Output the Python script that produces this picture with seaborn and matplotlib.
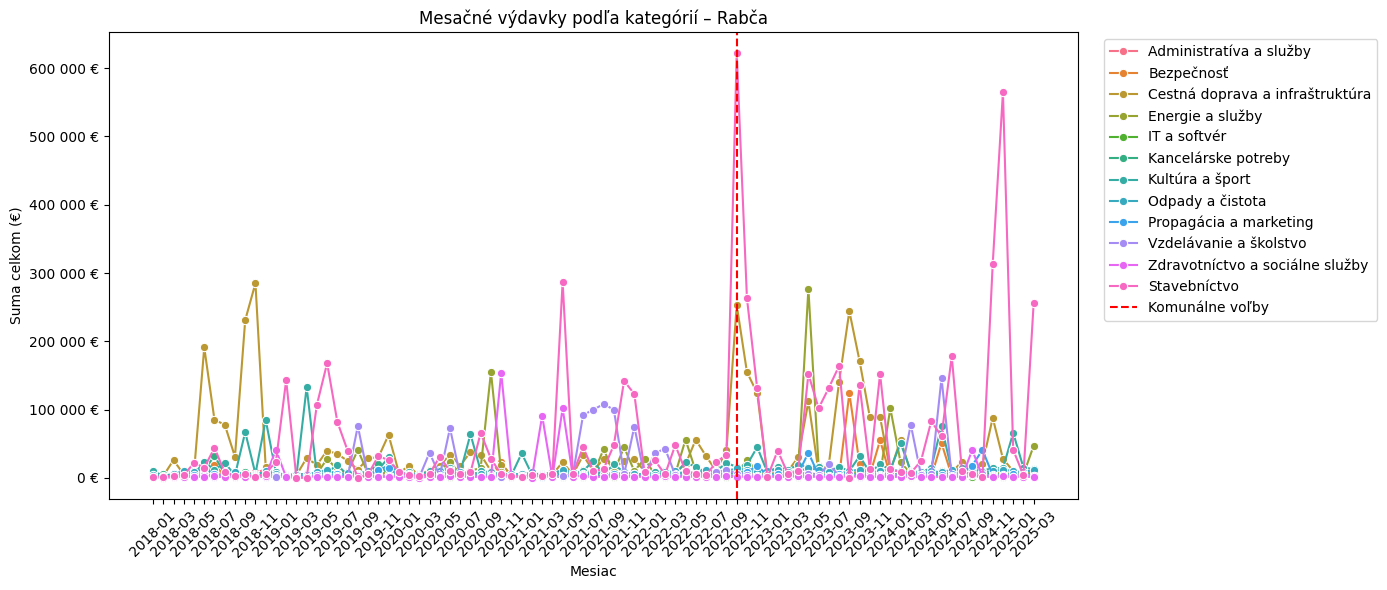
import pandas as pd
import matplotlib.pyplot as plt
import matplotlib.ticker as mticker
import seaborn as sns

# months 2018-01 .. 2025-03
months = [f"{y}-{m:02d}" for y in range(2018, 2026) for m in range(1, 13)][:87]

# monthly totals in thousands of EUR
admin = [5, 3, 4, 8, 6, 10, 7, 5, 4, 6, 8, 12,
         3, 4, 6, 5, 7, 4, 3, 9, 5, 6, 4, 8,
         5, 3, 6, 7, 4, 9, 5, 8, 6, 4, 3, 5,
         4, 6, 3, 7, 5, 8, 6, 4, 9, 5, 7, 3,
         6, 4, 8, 5, 7, 3, 6, 9, 5, 10, 7, 4,
         5, 8, 6, 4, 7, 5, 9, 6, 4, 8, 5, 7,
         6, 4, 9, 5, 7, 3, 8, 6, 5, 4, 7, 6,
         5, 8, 4]
bezpecnost = [1, 2, 1, 3, 2, 4, 19, 3, 1, 2, 1, 2,
              1, 3, 2, 1, 4, 2, 1, 3, 13, 2, 1, 2,
              3, 1, 2, 4, 2, 1, 3, 2, 5, 2, 23, 1,
              2, 1, 3, 2, 1, 4, 2, 3, 1, 2, 5, 1,
              2, 3, 1, 2, 4, 1, 3, 2, 1, 5, 2, 1,
              3, 2, 1, 4, 2, 3, 5, 2, 124, 20, 4, 55,
              3, 2, 1, 4, 2, 51, 3, 2, 1, 4, 2, 3,
              2, 1, 3]
doprava = [2, 3, 26, 5, 8, 191, 85, 78, 31, 231, 285, 16,
           3, 2, 4, 29, 19, 40, 35, 25, 12, 29, 30, 63,
           8, 17, 3, 12, 18, 34, 18, 38, 34, 10, 19, 5,
           3, 5, 3, 5, 23, 5, 33, 10, 28, 15, 25, 27,
           10, 3, 5, 8, 20, 56, 32, 10, 41, 253, 155, 124,
           3, 8, 10, 30, 112, 8, 20, 141, 244, 171, 89, 89,
           10, 56, 8, 3, 5, 5, 8, 24, 10, 20, 88, 28,
           10, 5, 10]
energie = [1, 2, 3, 2, 4, 6, 3, 2, 5, 3, 2, 4,
           2, 3, 5, 4, 6, 28, 12, 8, 41, 6, 4, 10,
           3, 5, 4, 8, 12, 23, 6, 10, 15, 155, 8, 3,
           4, 6, 5, 8, 10, 4, 12, 6, 42, 8, 45, 10,
           28, 5, 8, 6, 56, 10, 5, 4, 8, 6, 26, 10,
           5, 8, 6, 10, 277, 17, 5, 8, 6, 10, 8, 5,
           102, 23, 6, 8, 5, 10, 6, 8, 5, 10, 6, 8,
           5, 5, 47]
it = [2, 1, 3, 1, 2, 4, 2, 1, 3, 2, 1, 2,
      1, 2, 1, 3, 2, 1, 2, 4, 1, 2, 3, 1,
      2, 1, 3, 2, 1, 2, 4, 1, 2, 3, 1, 2,
      1, 3, 2, 1, 2, 5, 1, 2, 3, 1, 2, 1,
      3, 2, 1, 2, 4, 1, 2, 3, 1, 2, 5, 1,
      2, 1, 3, 2, 1, 4, 2, 1, 3, 2, 1, 2,
      1, 2, 3, 1, 2, 8, 1, 3, 2, 1, 2, 1,
      2, 1, 3]
kancelarske = [3, 5, 4, 8, 10, 12, 32, 6, 5, 8, 4, 6,
               5, 3, 6, 4, 8, 5, 7, 4, 6, 8, 20, 5,
               4, 6, 3, 8, 5, 7, 4, 6, 8, 3, 5, 4,
               6, 3, 5, 8, 4, 6, 3, 7, 5, 4, 8, 6,
               3, 5, 7, 4, 10, 6, 5, 4, 8, 6, 12, 5,
               4, 7, 5, 8, 6, 4, 5, 7, 6, 5, 8, 4,
               6, 5, 4, 7, 5, 10, 4, 6, 5, 8, 4, 6,
               5, 4, 6]
kultura = [10, 3, 5, 8, 6, 23, 12, 22, 4, 67, 6, 85,
           8, 4, 3, 133, 5, 8, 19, 4, 6, 10, 12, 30,
           6, 8, 5, 10, 12, 15, 8, 64, 10, 8, 6, 4,
           36, 5, 3, 4, 8, 6, 10, 25, 5, 20, 8, 6,
           5, 8, 10, 6, 23, 16, 8, 10, 22, 16, 19, 45,
           8, 16, 12, 19, 16, 16, 10, 16, 10, 32, 8, 20,
           12, 51, 10, 8, 15, 76, 10, 15, 12, 10, 15, 14,
           66, 15, 13]
odpady = [4, 2, 6, 10, 8, 15, 5, 3, 8, 6, 4, 10,
          5, 3, 4, 6, 8, 12, 5, 7, 4, 6, 10, 19,
          8, 5, 6, 4, 10, 12, 8, 6, 5, 4, 3, 6,
          5, 8, 4, 6, 12, 8, 5, 10, 6, 4, 8, 5,
          6, 4, 8, 10, 5, 6, 12, 8, 10, 14, 12, 8,
          10, 12, 8, 10, 14, 12, 8, 6, 10, 12, 8, 10,
          12, 10, 8, 6, 10, 8, 12, 10, 14, 8, 10, 12,
          10, 8, 12]
propagacia = [2, 1, 3, 2, 4, 3, 5, 2, 1, 3, 2, 4,
              3, 2, 1, 4, 2, 3, 5, 2, 4, 3, 12, 15,
              3, 2, 4, 3, 5, 8, 4, 3, 2, 4, 3, 2,
              3, 4, 2, 5, 3, 2, 4, 3, 2, 5, 3, 2,
              4, 2, 3, 5, 2, 4, 3, 6, 4, 3, 8, 18,
              4, 5, 3, 6, 37, 4, 3, 5, 4, 3, 5, 4,
              3, 5, 4, 6, 3, 4, 5, 8, 18, 41, 4, 3,
              5, 4, 3]
vzdelavanie = [2, 1, 3, 2, 1, 4, 2, 5, 1, 2, 3, 2,
               1, 3, 2, 1, 4, 2, 3, 1, 76, 2, 1, 3,
               2, 4, 1, 37, 3, 73, 2, 4, 1, 3, 2, 1,
               3, 2, 4, 1, 3, 5, 92, 100, 108, 100, 5, 75,
               3, 36, 43, 4, 2, 5, 3, 8, 12, 6, 4, 3,
               4, 2, 5, 3, 6, 4, 20, 3, 5, 2, 4, 3,
               5, 3, 78, 4, 5, 146, 3, 6, 4, 5, 3, 4,
               2, 5, 3]
zdravotnictvo = [1, 0, 1, 2, 1, 2, 3, 1, 2, 1, 2, 3,
                 41, 1, 0, 1, 2, 1, 2, 1, 3, 1, 2, 1,
                 2, 1, 0, 2, 1, 3, 2, 1, 2, 1, 154, 2,
                 1, 0, 91, 1, 102, 2, 3, 1, 2, 3, 1, 2,
                 2, 1, 3, 1, 2, 1, 2, 1, 3, 2, 1, 2,
                 1, 2, 1, 3, 1, 2, 1, 2, 1, 3, 2, 1,
                 2, 1, 3, 1, 2, 1, 2, 1, 41, 2, 1, 3,
                 1, 2, 1]
stavebnictvo = [1, 2, 3, 4, 22, 15, 44, 8, 3, 5, 2, 6,
                24, 143, 0, 0, 107, 168, 82, 40, 0, 5, 32, 26,
                9, 4, 3, 6, 31, 10, 5, 8, 66, 28, 5, 3,
                2, 4, 3, 5, 287, 6, 45, 10, 13, 48, 142, 123,
                8, 26, 5, 48, 10, 6, 4, 23, 34, 622, 263, 131,
                1, 40, 6, 10, 152, 102, 132, 164, 0, 136, 13, 152,
                13, 8, 7, 25, 83, 61, 178, 10, 5, 2, 313, 565,
                41, 4, 256]

categories = ["Administratíva a služby", "Bezpečnosť", "Cestná doprava a infraštruktúra",
              "Energie a služby", "IT a softvér", "Kancelárske potreby", "Kultúra a šport",
              "Odpady a čistota", "Propagácia a marketing", "Vzdelávanie a školstvo",
              "Zdravotníctvo a sociálne služby", "Stavebníctvo"]
series = [admin, bezpecnost, doprava, energie, it, kancelarske, kultura,
          odpady, propagacia, vzdelavanie, zdravotnictvo, stavebnictvo]

wide = pd.DataFrame({c: s for c, s in zip(categories, series)}, index=months)
wide.index.name = "mesiac"
df = wide.reset_index().melt(id_vars="mesiac", var_name="kategoria", value_name="suma")
df["suma"] = df["suma"] * 1000

fig, ax = plt.subplots(figsize=(13.87, 5.9), dpi=100)
sns.lineplot(data=df, x="mesiac", y="suma", hue="kategoria", hue_order=categories,
             palette="husl", marker="o", ax=ax)

ax.axvline(months.index("2022-10"), color="red", linestyle="--", label="Komunálne voľby")

ax.set_xticks(range(len(months)))
ax.set_xticklabels([m if i % 2 == 0 else "" for i, m in enumerate(months)], rotation=45)
ax.yaxis.set_major_formatter(mticker.FuncFormatter(lambda v, p: f"{v:,.0f} €".replace(",", " ")))

ax.set_title("Mesačné výdavky podľa kategórií – Rabča")
ax.set_xlabel("Mesiac")
ax.set_ylabel("Suma celkom (€)")
ax.legend(bbox_to_anchor=(1.02, 1), loc="upper left")

fig.subplots_adjust(left=0.0786, right=0.777, top=0.946, bottom=0.154)
plt.savefig("out.png")
